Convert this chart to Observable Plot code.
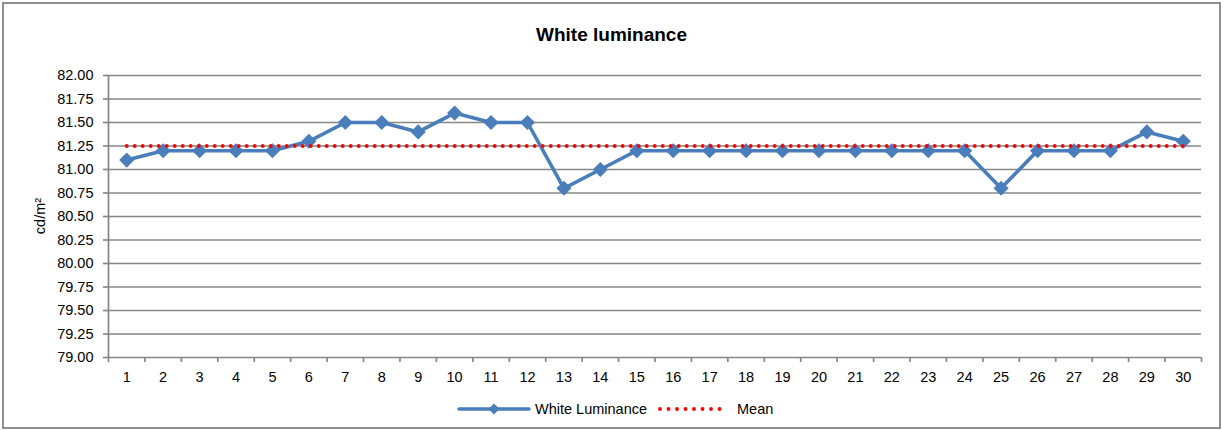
<!DOCTYPE html>
<html>
<head>
<meta charset="utf-8">
<script src="https://cdn.jsdelivr.net/npm/d3@7"></script>
<script src="https://cdn.jsdelivr.net/npm/@observablehq/plot@0.6"></script>
<style>
  html, body { margin: 0; padding: 0; background: #fff; }
  body { width: 1223px; height: 430px; position: relative; overflow: hidden; font-family: "Liberation Sans", Arial, sans-serif; }
  #frame { position: absolute; left: 2px; top: 2px; width: 1219px; height: 427px; box-sizing: border-box; border: 2px solid #8e8e8e; }
  #title { position: absolute; left: 0; width: 1223px; top: 24px; text-align: center; font-weight: bold; font-size: 19px; color: #000; }
  #chart { position: absolute; left: 0; top: 60px; }
  #ylabel { position: absolute; left: 40px; top: 216px; transform: translate(-50%, -50%) rotate(-90deg); font-size: 14.5px; color: #000; white-space: nowrap; }
  .leg { position: absolute; top: 400px; font-size: 14.5px; color: #000; line-height: 18px; white-space: nowrap; }
  .legsvg { position: absolute; top: 400px; }
</style>
</head>
<body>
<div id="frame"></div>
<div id="title">White luminance</div>
<div id="ylabel">cd/m²</div>
<div id="chart"></div>
<svg class="legsvg" style="left:455px" width="80" height="18">
  <line x1="4" y1="9" x2="74" y2="9" stroke="#4a7ebb" stroke-width="3.5" stroke-linecap="round"/>
  <path d="M39,3.5 L44.5,9 L39,14.5 L33.5,9 Z" fill="#4a7ebb"/>
</svg>
<div class="leg" style="left:535px">White Luminance</div>
<svg class="legsvg" style="left:655px" width="80" height="18">
  <line x1="5" y1="9" x2="73" y2="9" stroke="#ff0000" stroke-width="3.8" stroke-dasharray="0 8.5" stroke-linecap="round"/>
</svg>
<div class="leg" style="left:737px">Mean</div>
<script>
const categories = [1,2,3,4,5,6,7,8,9,10,11,12,13,14,15,16,17,18,19,20,21,22,23,24,25,26,27,28,29,30];
const whiteLuminance = [81.1,81.2,81.2,81.2,81.2,81.3,81.5,81.5,81.4,81.6,81.5,81.5,80.8,81.0,81.2,81.2,81.2,81.2,81.2,81.2,81.2,81.2,81.2,81.2,80.8,81.2,81.2,81.2,81.4,81.3];
const meanValue = 81.25;
const yTicks = [79.00,79.25,79.50,79.75,80.00,80.25,80.50,80.75,81.00,81.25,81.50,81.75,82.00];
const boundaries = [0.5,1.5,2.5,3.5,4.5,5.5,6.5,7.5,8.5,9.5,10.5,11.5,12.5,13.5,14.5,15.5,16.5,17.5,18.5,19.5,20.5,21.5,22.5,23.5,24.5,25.5,26.5,27.5,28.5,29.5,30.5];

const data = categories.map((c, i) => ({cat: c, val: whiteLuminance[i]}));
const meanData = [{cat: categories[0], val: meanValue}, {cat: categories[categories.length - 1], val: meanValue}];

const gridColor = "#878787";

const chart = Plot.plot({
  width: 1223,
  height: 330,
  marginTop: 15,
  marginBottom: 33,
  marginLeft: 108,
  marginRight: 22,
  style: {fontFamily: '"Liberation Sans", Arial, sans-serif', fontSize: "14.5px", background: "transparent", overflow: "visible"},
  x: {type: "linear", domain: [0.5, 30.5]},
  y: {type: "linear", domain: [79, 82]},
  marks: [
    Plot.ruleY(yTicks, {stroke: gridColor, strokeWidth: 1.7}),
    Plot.ruleX([0.5], {y1: 79, y2: 82, stroke: gridColor, strokeWidth: 1.7}),
    Plot.axisY(yTicks, {tickSize: 5, tickPadding: 10, tickFormat: d => d.toFixed(2), stroke: gridColor, strokeWidth: 1.7, fill: "#000", label: null}),
    Plot.axisX(boundaries, {tickSize: 5, tickPadding: 0, tickFormat: () => "", stroke: gridColor, strokeWidth: 1.7, label: null}),
    Plot.axisX(categories, {tickSize: 0, tickPadding: 14, tickFormat: d => String(d), fill: "#000", label: null}),
    Plot.line(data, {x: "cat", y: "val", stroke: "#4a7ebb", strokeWidth: 3.6}),
    Plot.dot(data, {x: "cat", y: "val", symbol: "diamond2", r: 6.8, fill: "#4a7ebb", stroke: "none"}),
    Plot.line(meanData, {x: "cat", y: "val", stroke: "#ff0000", strokeWidth: 3.8, strokeDasharray: "0 8", strokeLinecap: "round"})
  ]
});
document.getElementById("chart").appendChild(chart);
</script>
</body>
</html>
